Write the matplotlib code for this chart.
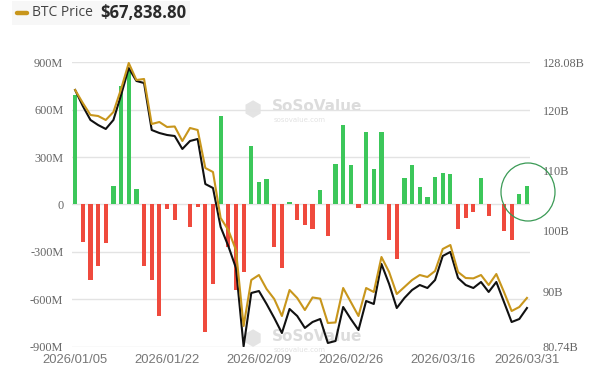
import numpy as np
import pandas as pd
import matplotlib
matplotlib.use("Agg")
import matplotlib.pyplot as plt
from matplotlib.patches import Ellipse, FancyBboxPatch

# trading days (US market holidays skipped)
dates = pd.bdate_range("2026-01-05", "2026-03-31", freq="C",
                       holidays=["2026-01-19", "2026-02-16"])
date_labels = [d.strftime("%Y/%m/%d") for d in dates]
tick_idx = [0, 12, 24, 36, 48, 59]

# daily net inflow (USD millions)
net_flow = [696, -238, -481, -392, -245, 114, 753, 848, 99, -388,
            -477, -703, -27, -99, 5, -143, -17, -810, -504, 559,
            -270, -538, -426, 369, 143, 162, -270, -405, 15, -99,
            -131, -158, 89, -200, 257, 506, 253, -23, 458, 226,
            460, -222, -344, 165, 249, 112, 49, 177, 200, 196,
            -158, -87, -46, 165, -72, 3, -169, -222, 68, 116]

# total net assets (USD billions)
net_assets = [123.47, 120.81, 118.48, 117.64, 116.98, 118.48, 122.64, 127.13, 124.97, 124.63,
              116.81, 116.31, 115.98, 115.81, 113.65, 114.98, 115.31, 107.82, 107.16, 100.67,
              97.50, 93.84, 80.80, 89.68, 90.01, 87.85, 85.52, 83.02, 87.02, 85.85,
              83.86, 84.85, 85.35, 81.36, 81.69, 87.35, 85.35, 83.52, 88.35, 87.85,
              94.51, 91.18, 87.18, 88.85, 90.18, 91.01, 90.51, 91.84, 95.84, 96.51,
              92.18, 91.01, 90.51, 91.51, 89.85, 91.51, 88.18, 84.85, 85.35, 87.18]

# BTC price (USD)
btc_price = [94013, 92377, 90866, 90740, 90237, 91244, 94139, 97412, 95272, 95398,
             89733, 89985, 89356, 89420, 87593, 89230, 88978, 84194, 83691, 77900,
             76390, 73872, 64305, 70096, 70725, 68963, 67704, 65564, 68837, 67830,
             66319, 67900, 67750, 64683, 64750, 69089, 67326, 65564, 69089, 68585,
             72991, 71102, 68334, 69215, 70096, 70725, 70473, 71229, 73998, 74502,
             71102, 70347, 70300, 70725, 69466, 70851, 68585, 66194, 66697, 67838.8]

right_ticks = [80.74, 90, 100, 110, 120, 128.08]
right_labels = ["80.74B", "90B", "100B", "110B", "120B", "128.08B"]
left_ticks = [-900, -600, -300, 0, 300, 600, 900]
left_labels = ["-900M", "-600M", "-300M", "0", "300M", "600M", "900M"]

GREEN = "#3cc75a"
RED = "#ef4a3d"
GOLD = "#c8961c"
GREY = "#666666"

fig = plt.figure(figsize=(5.92, 3.73), dpi=100)
ax = fig.add_axes([0.1211, 0.0705, 0.7742, 0.7625])

x = np.arange(len(net_flow))
flows = np.array(net_flow)
ax.bar(x, flows, width=0.55, color=[GREEN if v >= 0 else RED for v in flows], zorder=2)
ax.set_xlim(-0.45, 59.4)
ax.set_ylim(-900, 900)
ax.set_yticks(left_ticks)
ax.set_yticklabels(left_labels, family="Liberation Serif", fontsize=8.8, color=GREY)
ax.set_xticks(tick_idx)
ax.set_xticklabels([date_labels[i] for i in tick_idx], family="Liberation Sans",
                   fontsize=9.4, color="#777777")
ax.tick_params(length=0, pad=6)
ax.tick_params(axis="x", pad=5)
ax.grid(axis="y", color="#e3e3e3", lw=1, zorder=0)
for s in ax.spines.values():
    s.set_visible(False)

# watermarks
for wy in (0.843, 0.035):
    ax.text(0.437, wy, "SoSoValue", transform=ax.transAxes, fontsize=11, fontweight="bold",
            color="#dcdcdc", ha="left", va="center", zorder=1)
    ax.text(0.440, wy - 0.045, "sosovalue.com", transform=ax.transAxes, fontsize=5,
            color="#e2e2e2", ha="left", va="center", zorder=1)
    ax.text(0.395, wy - 0.01, "\u2b22", transform=ax.transAxes, fontsize=15,
            color="#e4e4e4", ha="center", va="center", zorder=1,
            family="DejaVu Sans")

# net assets on right axis
ax2 = ax.twinx()
ax2.plot(x, net_assets, color="#111111", lw=1.5, zorder=3)
ax2.set_ylim(80.74, 128.08)
ax2.set_yticks(right_ticks)
ax2.set_yticklabels(right_labels, family="Liberation Serif", fontsize=8.8, color=GREY)
ax2.tick_params(length=0, pad=9)
for s in ax2.spines.values():
    s.set_visible(False)

# btc price on hidden axis
ax3 = ax.twinx()
ax3.plot(x, btc_price, color=GOLD, lw=1.5, zorder=4)
ax3.set_ylim(61700, 97500)
ax3.axis("off")

# legend header
fig.patches.append(FancyBboxPatch((12 / 592, 1 - 25 / 373), 178 / 592, 24 / 373,
                                  boxstyle="square,pad=0", transform=fig.transFigure,
                                  facecolor="#f7f7f7", edgecolor="none"))
fig.add_artist(plt.Line2D([17 / 592, 27 / 592], [1 - 13 / 373, 1 - 13 / 373],
                          transform=fig.transFigure, color=GOLD, lw=3.2,
                          solid_capstyle="round"))
fig.text(32 / 592, 1 - 13 / 373, "BTC Price", fontsize=10, color="#444444",
         family="Open Sans", va="center", ha="left")
fig.text(100 / 592, 1 - 13 / 373, "${:,.2f}".format(btc_price[-1]), fontsize=12,
         color="#2a2a2a", family="Open Sans", fontweight="bold", va="center", ha="left")

# highlight circle
fig.add_artist(Ellipse((528 / 592, 1 - 192 / 373), 54 / 592, 58 / 373,
                       transform=fig.transFigure, fill=False, edgecolor="#3a9a55", lw=0.9))

fig.savefig("out.png", dpi=100)
